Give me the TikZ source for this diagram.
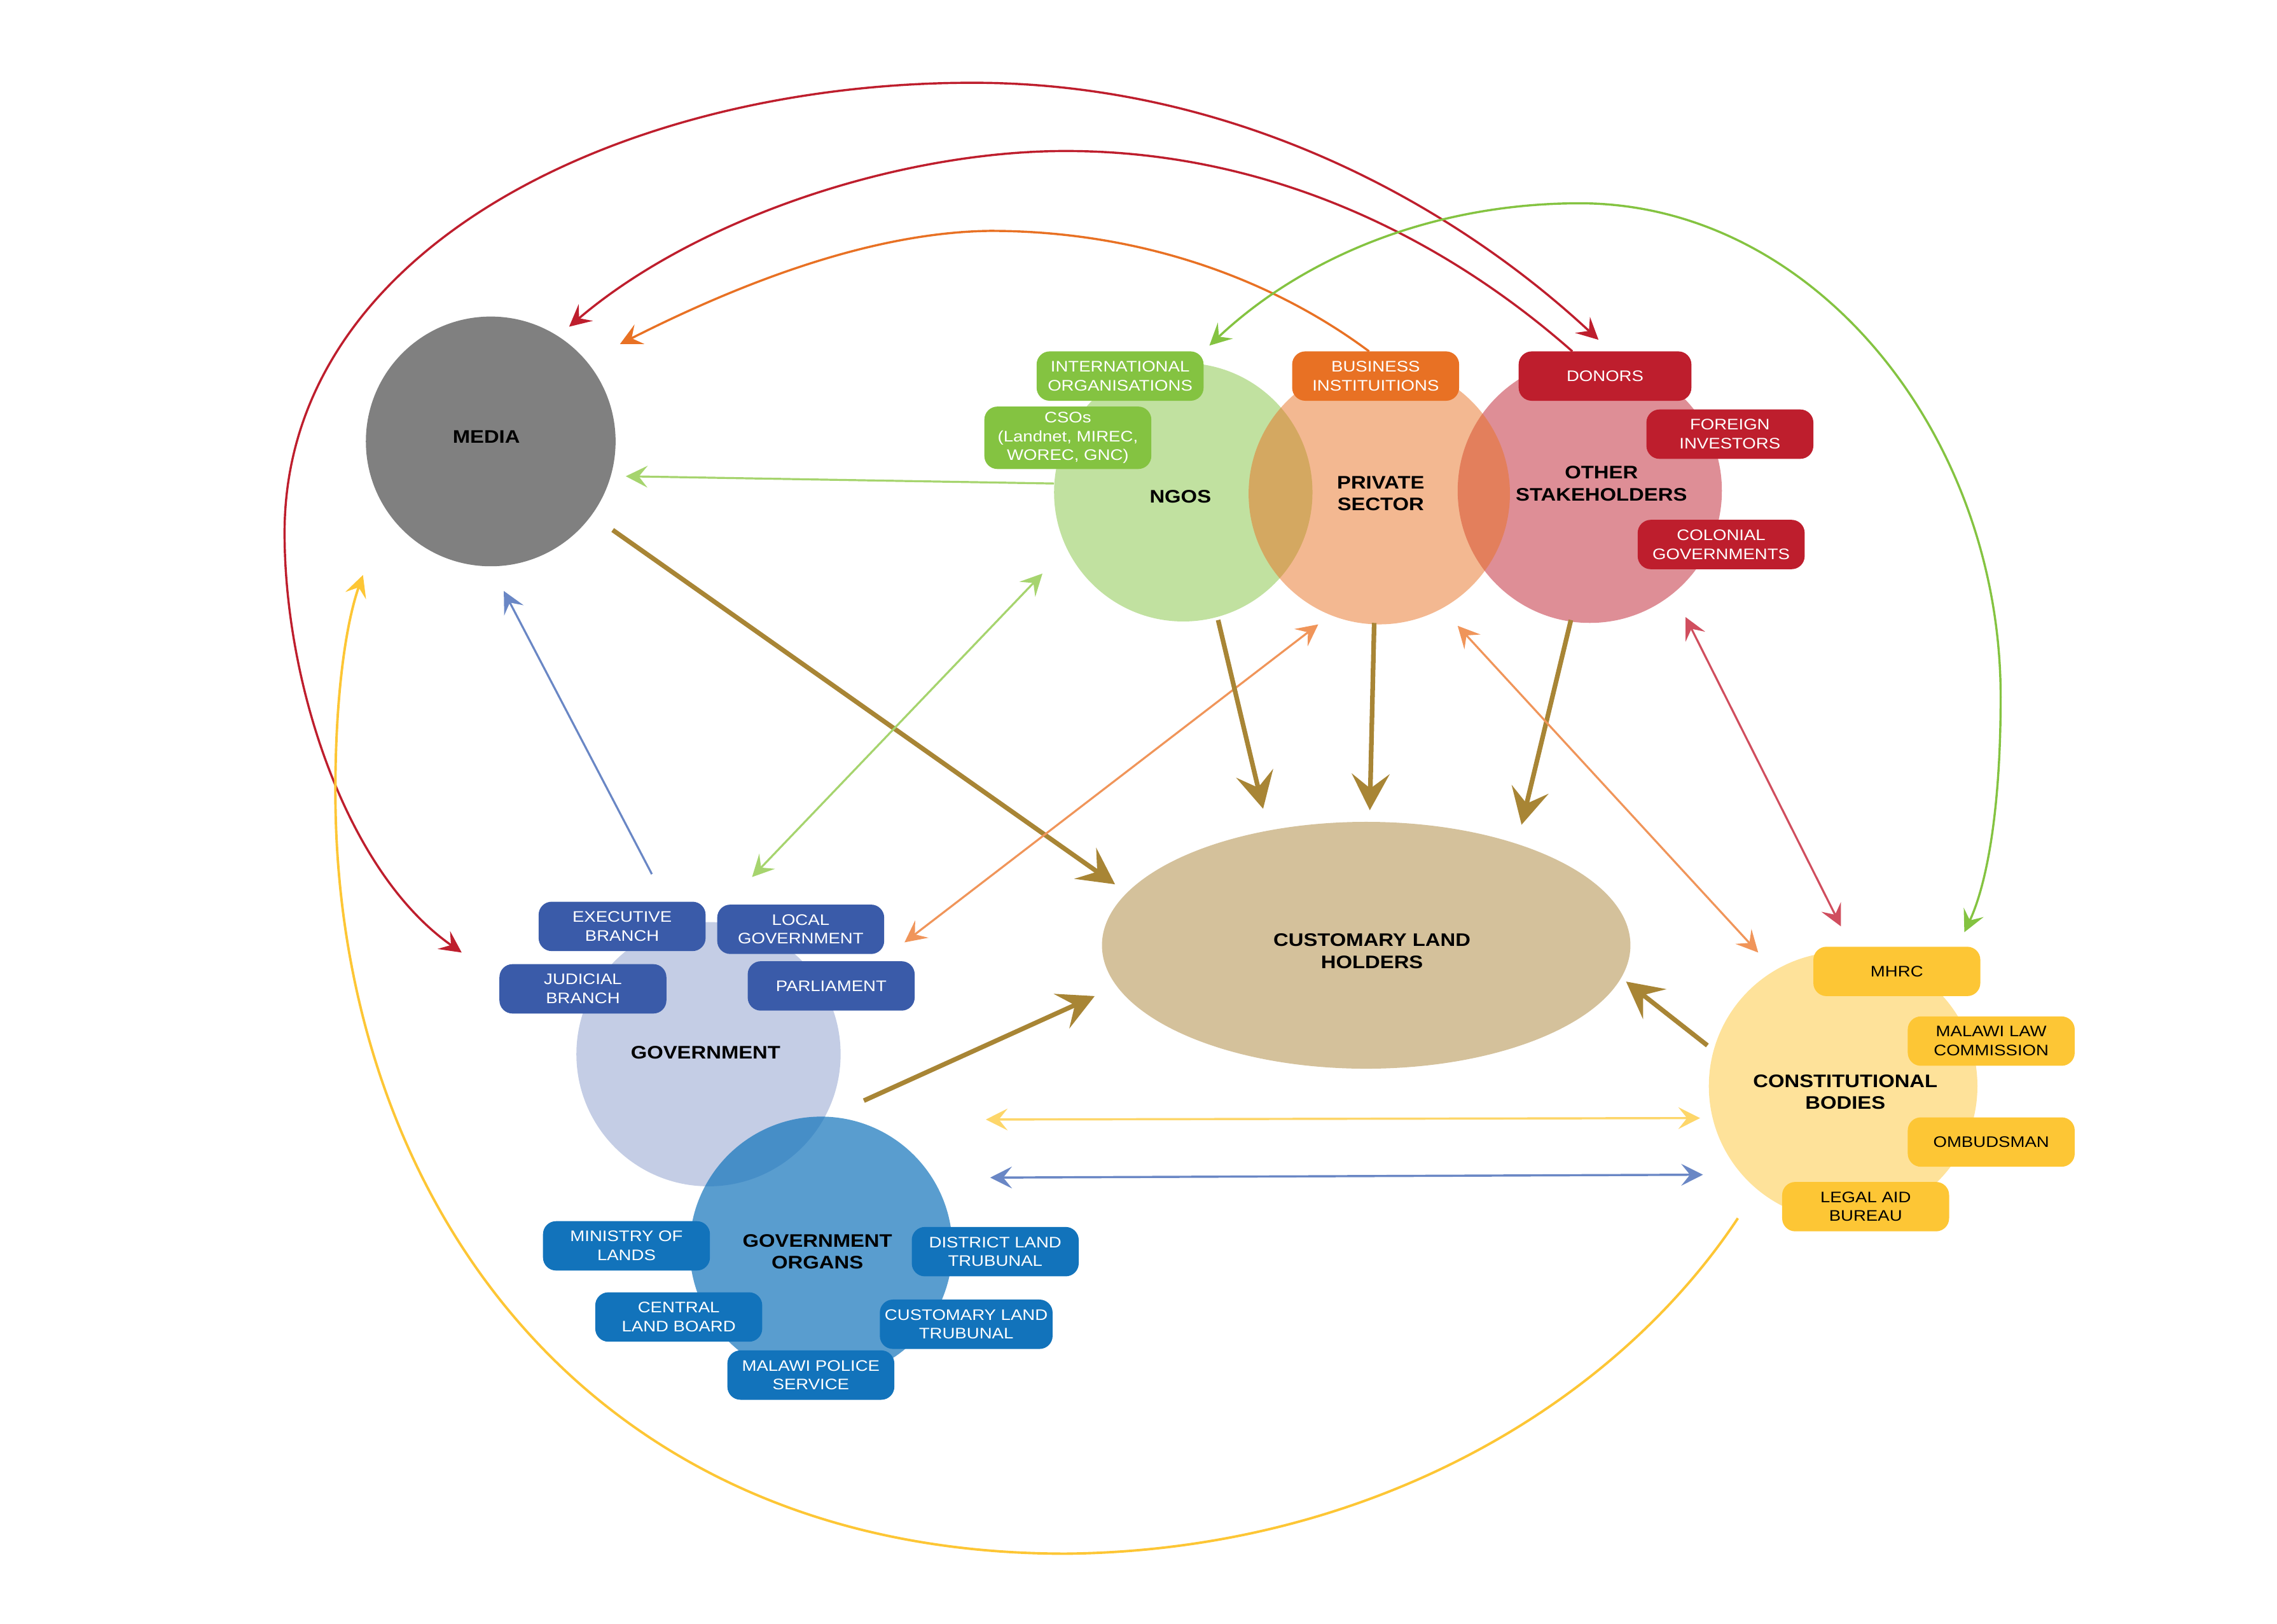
\documentclass[tikz,border=0pt]{standalone}
\usepackage{fontspec}
\setmainfont{Liberation Sans}[FakeStretch=1.15]
\usetikzlibrary{arrows.meta,shapes.geometric}
\definecolor{mediagray}{HTML}{808080}
\definecolor{ngogreen}{HTML}{84C341}
\definecolor{bizorange}{HTML}{E87124}
\definecolor{donred}{HTML}{BE1E2D}
\definecolor{govblue}{HTML}{3A5BA9}
\definecolor{organblue}{HTML}{1273BB}
\definecolor{constyellow}{HTML}{FDC635}
\definecolor{landfill}{HTML}{D4C19B}
\definecolor{brownar}{HTML}{A88535}
\definecolor{lgreenar}{HTML}{A6D46E}
\definecolor{lorangear}{HTML}{F0955A}
\definecolor{pinkar}{HTML}{D04E5E}
\definecolor{bluear}{HTML}{6A87C5}
\definecolor{lyellowar}{HTML}{FDD66A}
\begin{document}
\begin{tikzpicture}[x=1pt,y=-1pt,
  circ/.style={circle,inner sep=0pt,draw=none,text opacity=1},
  mainlbl/.style={font=\bfseries\fontsize{12.5}{15}\selectfont,align=center,inner sep=0pt},
  bx/.style={rounded corners=9pt,minimum width=115pt,minimum height=34pt,align=center,
    inner sep=0pt,text=white,font=\fontsize{10.5}{13}\selectfont},
  ar/.style={-{Stealth[length=15pt,width=15pt,inset=6pt]}},
  dar/.style={{Stealth[length=15pt,width=15pt,inset=6pt]}-{Stealth[length=15pt,width=15pt,inset=6pt]}},
  bar/.style={-{Stealth[length=25pt,width=26pt,inset=10pt]},line width=3.2pt,draw=brownar},
  thin/.style={line width=1.4pt}
]
\useasboundingbox (0,0) rectangle (1568.35,1118);

% ---------- circles ----------
\node[circ,minimum size=172pt,fill=mediagray] (media) at (338,304) {};
\node[circ,minimum size=178pt,fill=ngogreen,fill opacity=.5] (ngo) at (815,339) {};
\node[circ,minimum size=182pt,fill=donred,fill opacity=.5] (other) at (1095,338) {};
\node[circ,minimum size=180pt,fill=bizorange,fill opacity=.5] (priv) at (950,340) {};
\node[ellipse,inner sep=0pt,minimum width=364pt,minimum height=170pt,fill=landfill] (land) at (941,651) {};
\node[circ,minimum size=182pt,fill=govblue,fill opacity=.3] (gov) at (488,726) {};
\node[circ,minimum size=181pt,fill=organblue,fill opacity=.7] (organs) at (565.5,859.5) {};
\node[circ,minimum size=185pt,fill=constyellow,fill opacity=.5] (const) at (1269.5,748) {};

% ---------- main labels ----------
\node[mainlbl] (mediaT) at (335,301) {MEDIA};
\node[mainlbl] (ngoT) at (813,342) {NGOS};
\node[mainlbl] (privT) at (951,340) {PRIVATE\\SECTOR};
\node[mainlbl] (otherT) at (1103,333) {OTHER\\STAKEHOLDERS};
\node[mainlbl] (landT) at (945,655) {CUSTOMARY LAND\\HOLDERS};
\node[mainlbl] (govT) at (486,725) {GOVERNMENT};
\node[mainlbl] (organsT) at (563,862) {GOVERNMENT\\ORGANS};
\node[mainlbl] (constT) at (1271,752) {CONSTITUTIONAL\\BODIES};

% ---------- boxes ----------
\node[bx,fill=ngogreen] (intl) at (771.5,259) {INTERNATIONAL\\ORGANISATIONS};
\node[bx,fill=ngogreen,minimum height=43pt] (cso) at (735.5,301.5) {CSOs\\(Landnet, MIREC,\\WOREC, GNC)};
\node[bx,fill=bizorange] (biz) at (947.5,259) {BUSINESS\\INSTITUITIONS};
\node[bx,fill=donred,minimum width=119pt] (donors) at (1105.5,259) {DONORS};
\node[bx,fill=donred] (foreign) at (1191.5,299) {FOREIGN\\INVESTORS};
\node[bx,fill=donred] (colonial) at (1185.5,375) {COLONIAL\\GOVERNMENTS};
\node[bx,fill=govblue] (exec) at (428.5,638) {EXECUTIVE\\BRANCH};
\node[bx,fill=govblue] (local) at (551.5,640) {LOCAL\\GOVERNMENT};
\node[bx,fill=govblue] (jud) at (401.5,681) {JUDICIAL\\BRANCH};
\node[bx,fill=govblue] (parl) at (572.5,679) {PARLIAMENT};
\node[bx,fill=organblue] (minl) at (431.5,858) {MINISTRY OF\\LANDS};
\node[bx,fill=organblue] (clb) at (467.5,907) {CENTRAL\\LAND BOARD};
\node[bx,fill=organblue] (dlt) at (685.5,862) {DISTRICT LAND\\TRUBUNAL};
\node[bx,fill=organblue,minimum width=119pt] (clt) at (665.5,912) {CUSTOMARY LAND\\TRUBUNAL};
\node[bx,fill=organblue] (police) at (558.5,947) {MALAWI POLICE\\SERVICE};
\node[bx,fill=constyellow,text=black] (mhrc) at (1306.5,669) {MHRC};
\node[bx,fill=constyellow,text=black] (mlc) at (1371.5,717) {MALAWI LAW\\COMMISSION};
\node[bx,fill=constyellow,text=black] (omb) at (1371.5,786.5) {OMBUDSMAN};
\node[bx,fill=constyellow,text=black] (lab) at (1285,831) {LEGAL AID\\BUREAU};

% ---------- connector end points ----------
\coordinate (roA) at (318,656);
\coordinate (roB) at (1101,234);
\coordinate (riA) at (1083,242);
\coordinate (riB) at (392,225);
\coordinate (orA) at (943,242);
\coordinate (orB) at (427,237);
\coordinate (grA) at (833,238);
\coordinate (grB) at (1353,642);
\coordinate (yeA) at (1197,839);
\coordinate (yeB) at (250,396);
\coordinate (ngA) at (726,333);
\coordinate (ngB) at (431,328);
\coordinate (meA) at (422,365);
\coordinate (meB) at (768,609);
\coordinate (gbA) at (449,602);
\coordinate (gbB) at (347,407);
\coordinate (lgA) at (518,604);
\coordinate (lgB) at (718,395);
\coordinate (loA) at (623,649);
\coordinate (loB) at (908,430);
\coordinate (n1A) at (839,427);
\coordinate (n1B) at (870,557);
\coordinate (p1A) at (946.5,429);
\coordinate (p1B) at (943.5,558);
\coordinate (o1A) at (1082,427);
\coordinate (o1B) at (1048,568);
\coordinate (roR1) at (1004,431);
\coordinate (roR2) at (1211,656);
\coordinate (pkA) at (1161,425);
\coordinate (pkB) at (1268,638);
\coordinate (cbA) at (1176,720);
\coordinate (cbB) at (1120,676);
\coordinate (gvA) at (595,758);
\coordinate (gvB) at (754,686);
\coordinate (yhA) at (679,771);
\coordinate (yhB) at (1171,770);
\coordinate (bhA) at (682,811);
\coordinate (bhB) at (1173,809);

% ---------- curves ----------
\draw[donred,line width=1.5pt,dar] (roA) .. controls (238,600) and (196,470) .. (196,367)
  .. controls (196,170) and (430,57) .. (670,57)
  .. controls (850,57) and (1000,140) .. (roB);
\draw[donred,line width=1.5pt,ar] (riA) .. controls (990,160) and (870,104) .. (734,104)
  .. controls (620,104) and (480,150) .. (riB);
\draw[bizorange,line width=1.5pt,ar] (orA) .. controls (880,195) and (790,159) .. (682,159)
  .. controls (600,160) and (510,195) .. (orB);
\draw[ngogreen,line width=1.5pt,dar] (grA) .. controls (900,175) and (990,140) .. (1088,140)
  .. controls (1250,140) and (1378,300) .. (1378,480)
  .. controls (1378,560) and (1368,610) .. (grB);
\draw[constyellow,line width=1.7pt,ar] (yeA) .. controls (1110,970) and (940,1068) .. (734,1070)
  .. controls (400,1070) and (231,820) .. (231,545)
  .. controls (231,480) and (238,430) .. (yeB);

% ---------- straight connectors ----------
\draw[lgreenar,thin,ar] (ngA) -- (ngB);
\draw[bar] (meA) -- (meB);
\draw[bluear,thin,ar] (gbA) -- (gbB);
\draw[lgreenar,thin,dar] (lgA) -- (lgB);
\draw[lorangear,thin,dar] (loA) -- (loB);
\draw[bar] (n1A) -- (n1B);
\draw[bar] (p1A) -- (p1B);
\draw[bar] (o1A) -- (o1B);
\draw[lorangear,thin,dar] (roR1) -- (roR2);
\draw[pinkar,thin,dar] (pkA) -- (pkB);
\draw[bar] (cbA) -- (cbB);
\draw[bar] (gvA) -- (gvB);
\draw[lyellowar,line width=1.5pt,dar] (yhA) -- (yhB);
\draw[bluear,line width=1.5pt,dar] (bhA) -- (bhB);
\end{tikzpicture}
\end{document}
